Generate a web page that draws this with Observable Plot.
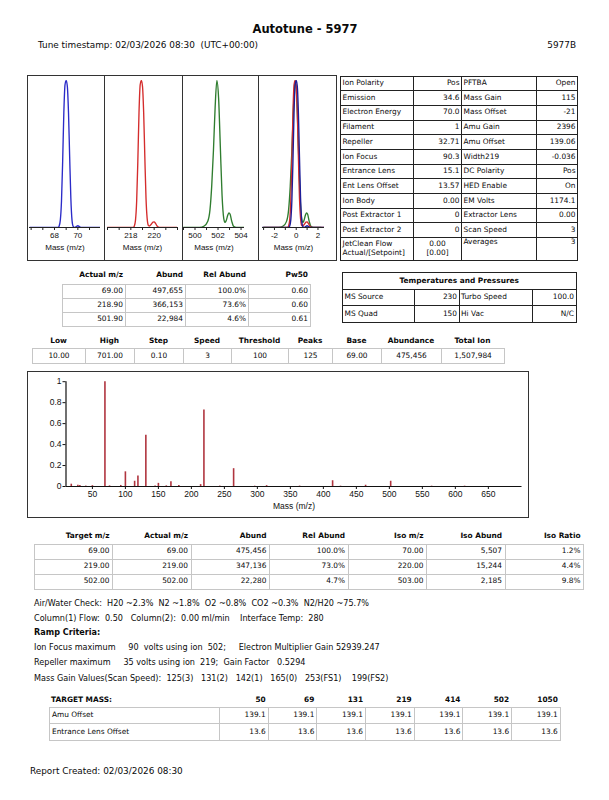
<!DOCTYPE html>
<html><head><meta charset="utf-8">
<script src="https://cdn.jsdelivr.net/npm/d3@7"></script>
<script src="https://cdn.jsdelivr.net/npm/@observablehq/plot@0.6"></script>
<style>
body{margin:0;background:#fff;}
#page{position:relative;width:609px;height:800px;overflow:hidden;font-family:"DejaVu Sans",Verdana,sans-serif;color:#0a0a0a;}
#page table{border-collapse:collapse;table-layout:fixed;position:absolute;}
#page td{white-space:nowrap;overflow:hidden;line-height:1.15;}
svg{display:block;flex:none;}
</style></head><body><div id="page"></div>
<script>
// ---------------- data ----------------
const title = "Autotune - 5977";
const timestamp = "Tune timestamp: 02/03/2026 08:30  (UTC+00:00)";
const model = "5977B";
const reportCreated = "Report Created: 02/03/2026 08:30";

// mass profiles
const p69x = [65.9, 68.3, 68.4, 68.5, 68.6, 68.7, 68.8, 68.9, 69.0, 69.1, 69.2, 69.3, 69.4, 69.5, 69.6, 69.75, 69.9, 70.0, 70.1, 70.25, 71.9];
const p69y = [0, 0, 0.01, 0.05, 0.18, 0.45, 0.78, 0.97, 1.0, 0.96, 0.78, 0.48, 0.2, 0.05, 0.008, 0, 0.008, 0.012, 0.008, 0, 0];
const p219x = [216, 218.2, 218.3, 218.4, 218.5, 218.6, 218.7, 218.8, 218.9, 219.0, 219.1, 219.2, 219.3, 219.4, 219.5, 219.6, 219.75, 219.9, 220.0, 220.1, 220.25, 220.45, 222];
const p219y = [0, 0, 0.01, 0.05, 0.18, 0.45, 0.78, 0.97, 1.0, 0.96, 0.78, 0.48, 0.2, 0.06, 0.015, 0.01, 0.022, 0.036, 0.038, 0.03, 0.01, 0, 0];
const p502x = [499.0, 500.4, 500.8, 501.1, 501.3, 501.45, 501.6, 501.75, 501.9, 502.05, 502.2, 502.35, 502.5, 502.6, 502.7, 502.85, 502.95, 503.05, 503.2, 503.35, 503.6, 504.3];
const p502y = [0, 0, 0.01, 0.04, 0.12, 0.28, 0.52, 0.82, 1.0, 0.88, 0.55, 0.22, 0.06, 0.035, 0.045, 0.085, 0.1, 0.09, 0.04, 0.008, 0, 0];
const profileColors = ["#2b2bc8", "#d42c2c", "#2f7d2f"];
const profileTargets = [69, 219, 502];

// instrument parameters
const paramLabelsL = ["Ion Polarity","Emission","Electron Energy","Filament","Repeller","Ion Focus","Entrance Lens","Ent Lens Offset","Ion Body","Post Extractor 1","Post Extractor 2","JetClean Flow<br>Actual/[Setpoint]"];
const paramValuesL = ["Pos","34.6","70.0","1","32.71","90.3","15.1","13.57","0.00","0","0","0.00<br>[0.00]"];
const paramLabelsR = ["PFTBA","Mass Gain","Mass Offset","Amu Gain","Amu Offset","Width219","DC Polarity","HED Enable","EM Volts","Extractor Lens","Scan Speed","Averages"];
const paramValuesR = ["Open","115","-21","2396","139.06","-0.036","Pos","On","1174.1","0.00","3","3"];

// peak table
const actualHeaders = ["Actual m/z","Abund","Rel Abund","Pw50"];
const actualMz = ["69.00","218.90","501.90"];
const actualAbund = ["497,655","366,153","22,984"];
const actualRel = ["100.0%","73.6%","4.6%"];
const actualPw50 = ["0.60","0.60","0.61"];

// scan table
const scanHeaders = ["Low","High","Step","Speed","Threshold","Peaks","Base","Abundance","Total Ion"];
const scanValues = ["10.00","701.00","0.10","3","100","125","69.00","475,456","1,507,984"];

// temperatures
const tempTitle = "Temperatures and Pressures";
const tempLabels1 = ["MS Source","MS Quad"];
const tempValues1 = ["230","150"];
const tempLabels2 = ["Turbo Speed","Hi Vac"];
const tempValues2 = ["100.0","N/C"];

// spectrum
const scanLow = 10, scanHigh = 701;
const specMass = [18, 28, 31, 40, 50, 69, 76, 93, 100, 114, 119, 131, 145, 150, 162, 169, 181, 214, 219, 243, 264, 296, 314, 364, 414, 426, 464, 502, 564, 614];
const specRel  = [0.022, 0.012, 0.01, 0.004, 0.008, 1.0, 0.006, 0.01, 0.14, 0.05, 0.10, 0.49, 0.005, 0.03, 0.006, 0.045, 0.01, 0.018, 0.73, 0.004, 0.17, 0.003, 0.008, 0.004, 0.055, 0.003, 0.012, 0.05, 0.003, 0.003];
const specXTicks = [50, 100, 150, 200, 250, 300, 350, 400, 450, 500, 550, 600, 650];
const specYTicks = [0, 0.2, 0.4, 0.6, 0.8, 1];

// target table
const targetHeaders = ["Target m/z","Actual m/z","Abund","Rel Abund","Iso m/z","Iso Abund","Iso Ratio"];
const targetMz = ["69.00","219.00","502.00"];
const targetActual = ["69.00","219.00","502.00"];
const targetAbund = ["475,456","347,136","22,280"];
const targetRel = ["100.0%","73.0%","4.7%"];
const isoMz = ["70.00","220.00","503.00"];
const isoAbund = ["5,507","15,244","2,185"];
const isoRatio = ["1.2%","4.4%","9.8%"];

// info lines
const infoLines = [
  "Air/Water Check:  H20 ~2.3%  N2 ~1.8%  O2 ~0.8%  CO2 ~0.3%  N2/H20 ~75.7%",
  "Column(1) Flow:  0.50   Column(2):  0.00 ml/min    Interface Temp:  280",
  "Ramp Criteria:",
  "Ion Focus maximum     90  volts using ion  502;     Electron Multiplier Gain 52939.247",
  "Repeller maximum     35 volts using ion  219;  Gain Factor   0.5294",
  "Mass Gain Values(Scan Speed):  125(3)   131(2)   142(1)   165(0)   253(FS1)    199(FS2)"
];
const boldInfo = [false, false, true, false, false, false];

// target mass table
const targetMassLabel = "TARGET MASS:";
const targetMasses = ["50","69","131","219","414","502","1050"];
const amuOffsetVals = ["139.1","139.1","139.1","139.1","139.1","139.1","139.1"];
const entLensVals = ["13.6","13.6","13.6","13.6","13.6","13.6","13.6"];

// ---------------- helpers ----------------
const page = document.getElementById("page");
function txt(s, x, y, fs, o = {}) {
  const d = document.createElement("div");
  d.textContent = s;
  d.style.cssText = `position:absolute;top:${y - fs * 0.6}px;font-size:${fs}px;line-height:${fs * 1.2}px;white-space:pre;font-weight:${o.bold ? "bold" : "normal"};`;
  if (o.anchor === "end") d.style.right = (609 - x) + "px";
  else if (o.anchor === "middle") { d.style.left = x + "px"; d.style.transform = "translateX(-50%)"; }
  else d.style.left = x + "px";
  page.appendChild(d);
  return d;
}
function table(o) {
  const t = document.createElement("table");
  const total = o.cols.reduce((a, b) => a + b, 0);
  t.style.cssText = `left:${o.left}px;top:${o.top}px;width:${total}px;font-size:${o.fs}px;${o.outer || ""}`;
  const cg = document.createElement("colgroup");
  o.cols.forEach(w => { const c = document.createElement("col"); c.style.width = w + "px"; cg.appendChild(c); });
  t.appendChild(cg);
  o.rows.forEach((r, i) => {
    const tr = document.createElement("tr");
    tr.style.height = (Array.isArray(o.rh) ? o.rh[i] : o.rh) + "px";
    r.forEach((v, j) => {
      const td = document.createElement("td");
      td.innerHTML = v;
      const al = typeof o.align === "function" ? o.align(i, j) : o.align;
      td.style.textAlign = al;
      td.style.border = o.cell || "none";
      td.style.padding = `0 ${o.pad ?? 2}px`;
      td.style.fontWeight = (o.bold || (o.boldCell && o.boldCell(i, j))) ? "bold" : "normal";
      td.style.verticalAlign = o.valign ? o.valign(i, j) : "middle";
      if (o.colspan && o.colspan(i, j)) td.colSpan = o.colspan(i, j);
      tr.appendChild(td);
    });
    t.appendChild(tr);
  });
  page.appendChild(t);
  return t;
}

// ---------------- header ----------------
txt(title, 305, 30, 11.5, {anchor: "middle", bold: true});
txt(timestamp, 38, 45, 8.9);
txt(model, 576, 45, 8.9, {anchor: "end"});

// ---------------- profile panels ----------------
const axStyle = {background: "transparent", fontFamily: "'Liberation Sans', Arial, sans-serif", fontSize: "8px", color: "#111", overflow: "visible"};
const mk = (xs, ys) => xs.map((x, i) => ({x, y: ys[i]}));
const prof = [mk(p69x, p69y), mk(p219x, p219y), mk(p502x, p502y)];
const overlay = prof.map((d, k) => d.map(p => ({x: p.x - profileTargets[k], y: p.y})));

function profilePlot(series, domain, tickVals, labelVals, w, ml, mr) {
  return Plot.plot({
    width: w, height: 184, marginTop: 4, marginBottom: 33, marginLeft: ml, marginRight: mr,
    x: {domain}, y: {domain: [0, 1], axis: null},
    style: axStyle,
    marks: [
      ...series.map(s => Plot.line(s.data, {x: "x", y: "y", stroke: s.color, strokeWidth: 1.35, curve: "monotone-x", clip: true})),
      Plot.ruleY([0], {stroke: "#222", strokeWidth: 1}),
      Plot.axisX(tickVals, {tickSize: 3, tickPadding: 1.5, tickFormat: d => labelVals.includes(d) ? String(d) : "", label: null, stroke: "#222"}),
      Plot.text(["Mass (m/z)"], {text: d => d, frameAnchor: "bottom", dy: 22, fontSize: 8, fill: "#111"})
    ]
  });
}
const profBox = document.createElement("div");
profBox.style.cssText = "position:absolute;left:27px;top:75px;display:flex;border:1px solid #333;";
page.appendChild(profBox);
const panels = [
  profilePlot([{data: prof[0], color: profileColors[0]}], [65.86, 71.94], [66, 67, 68, 69, 70, 71], [68, 70], 76, 1, 4),
  profilePlot([{data: prof[1], color: profileColors[1]}], [216, 222], [216, 217, 218, 219, 220, 221, 222], [218, 220], 77, 2, 5),
  profilePlot([{data: prof[2], color: profileColors[2]}], [499.0, 504.3], [499, 500, 501, 502, 503, 504], [500, 502, 504], 75, 0, 14),
  profilePlot([{data: overlay[2], color: profileColors[2]}, {data: overlay[1], color: profileColors[1]}, {data: overlay[0], color: "#1e1e9a"}], [-3.1, 2.6], [-3, -2, -1, 0, 1, 2], [-2, 0, 2], 77, 3, 12)
];
panels.forEach((p, i) => { if (i > 0) p.style.borderLeft = "1px solid #333"; profBox.appendChild(p); });

// ---------------- parameter table ----------------
table({
  left: 340, top: 75.5, cols: [73, 48, 75, 41], fs: 7.4,
  rh: [14.7, 14.7, 14.7, 14.7, 14.7, 14.7, 14.7, 14.7, 14.7, 14.7, 14.7, 22.5],
  rows: paramLabelsL.map((l, i) => [l, paramValuesL[i], paramLabelsR[i], paramValuesR[i]]),
  align: (i, j) => (j === 1 && i === 11) ? "center" : (j % 2 ? "right" : "left"),
  valign: (i, j) => (i === 11 && j >= 2) ? "top" : "middle",
  cell: "1px solid #222", outer: "border:1.5px solid #111;", pad: 1.5
});

// ---------------- peak table ----------------
table({left: 62, top: 269, cols: [63, 60, 63, 62], fs: 7.4, rh: 12, rows: [actualHeaders], align: "right", bold: true, pad: 2});
table({
  left: 62, top: 283.5, cols: [63, 60, 63, 62], fs: 7.4, rh: 14.1,
  rows: actualMz.map((m, i) => [m, actualAbund[i], actualRel[i], actualPw50[i]]),
  align: "right", cell: "1px solid #c6c6c6", outer: "border:1px solid #a8a8a8;", pad: 2
});

// ---------------- scan table ----------------
const scanCols = [53, 49, 49, 48, 57, 44, 49, 60, 63];
table({left: 32, top: 335.5, cols: scanCols, fs: 7.4, rh: 12, rows: [scanHeaders], align: "center", bold: true});
table({
  left: 32, top: 348.3, cols: scanCols, fs: 7.4, rh: 15, rows: [scanValues],
  align: "center", cell: "1px solid #c6c6c6", outer: "border:1px solid #a8a8a8;"
});

// ---------------- temperatures table ----------------
table({
  left: 342, top: 272, cols: [71.5, 45, 73.5, 43.5], fs: 7.4, rh: [16.6, 16.7, 16.7],
  rows: [[tempTitle], ...tempLabels1.map((l, i) => [l, tempValues1[i], tempLabels2[i], tempValues2[i]])],
  colspan: (i, j) => (i === 0 && j === 0) ? 4 : 0,
  boldCell: (i, j) => i === 0,
  align: (i, j) => i === 0 ? "center" : (j % 2 ? "right" : "left"),
  cell: "1px solid #222", outer: "border:1.5px solid #111;", pad: 1.5
});

// ---------------- spectrum ----------------
const specBox = document.createElement("div");
specBox.style.cssText = "position:absolute;left:27px;top:371px;border:1.5px solid #333;";
page.appendChild(specBox);
const specData = specMass.map((m, i) => ({m, v: specRel[i]}));
specBox.appendChild(Plot.plot({
  width: 500, height: 145, marginLeft: 37.5, marginRight: 6.5, marginTop: 9.2, marginBottom: 31,
  x: {domain: [scanLow, scanHigh]}, y: {domain: [0, 1]},
  style: {...axStyle, fontSize: "8.5px"},
  marks: [
    Plot.ruleX(specData, {x: "m", y1: 0, y2: "v", stroke: "#b0353f", strokeWidth: 1.6}),
    Plot.ruleX([scanLow], {stroke: "#111", strokeWidth: 1.2}),
    Plot.ruleY([0], {stroke: "#111", strokeWidth: 1.2}),
    Plot.axisY(specYTicks, {tickSize: 3, tickPadding: 1.5, tickFormat: d => String(d), label: null, stroke: "#111"}),
    Plot.axisX(specXTicks, {tickSize: 3, tickPadding: 1.5, tickFormat: d => String(d), label: null, stroke: "#111"}),
    Plot.text(["Mass (m/z)"], {text: d => d, frameAnchor: "bottom", dy: 22, fontSize: 8.5, fill: "#111"})
  ]
}));

// ---------------- target table ----------------
const tCols = [78.5, 78.5, 78.5, 78.5, 78.5, 78.5, 78.5];
table({left: 33.5, top: 530, cols: tCols, fs: 7.4, rh: 12, rows: [targetHeaders], align: "right", bold: true, pad: 2.5});
table({
  left: 33.5, top: 543.5, cols: tCols, fs: 7.4, rh: 15,
  rows: targetMz.map((m, i) => [m, targetActual[i], targetAbund[i], targetRel[i], isoMz[i], isoAbund[i], isoRatio[i]]),
  align: "right", cell: "1px solid #c6c6c6", outer: "border:1px solid #a8a8a8;", pad: 2.5
});

// ---------------- info lines ----------------
const infoY = [604, 619, 633, 648, 662.5, 678.5];
infoLines.forEach((s, i) => txt(s, 34, infoY[i], 8.1, {bold: boldInfo[i]}));

// ---------------- target mass table ----------------
const mCols = [170, 48.7, 48.7, 48.7, 48.7, 48.7, 48.7, 48.7];
table({left: 49, top: 694, cols: mCols, fs: 7.4, rh: 12, rows: [[targetMassLabel, ...targetMasses]], align: (i, j) => j === 0 ? "left" : "right", bold: true, pad: 2});
table({
  left: 49, top: 707, cols: mCols, fs: 7.4, rh: [16.3, 16.7],
  rows: [["Amu Offset", ...amuOffsetVals], ["Entrance Lens Offset", ...entLensVals]],
  align: (i, j) => j === 0 ? "left" : "right", cell: "1px solid #c6c6c6", outer: "border:1px solid #a8a8a8;", pad: 2
});

// ---------------- footer ----------------
txt(reportCreated, 30, 771, 8.9);
</script>
</body></html>
